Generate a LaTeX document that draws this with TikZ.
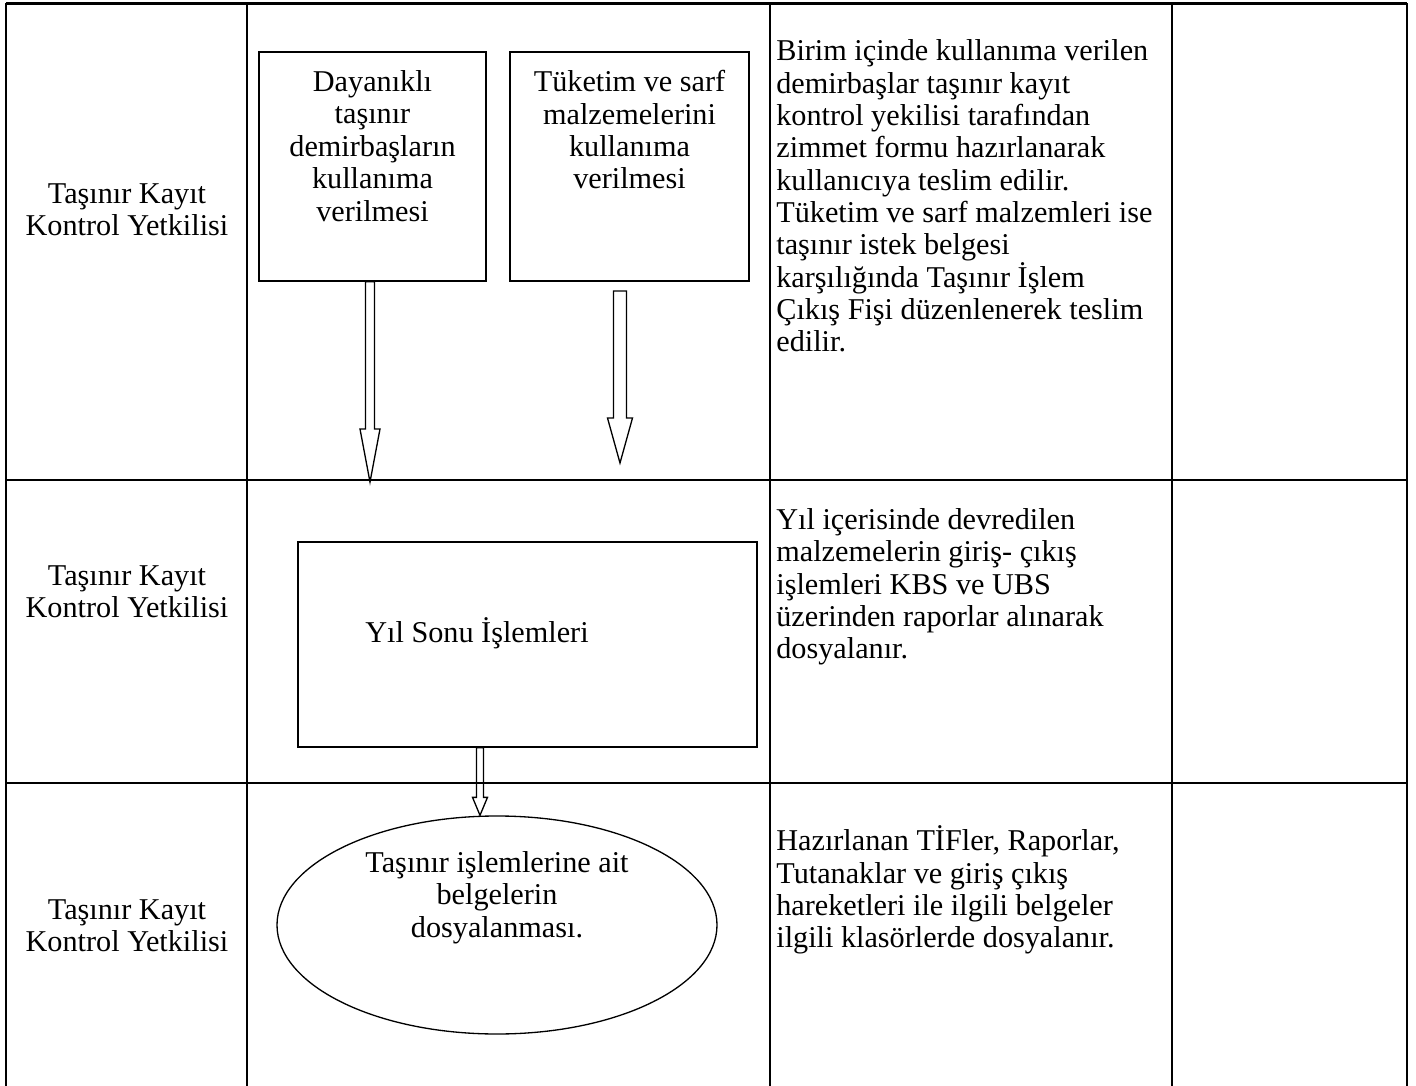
\documentclass[tikz,border=0pt]{standalone}
\usepackage{fontspec}
\setmainfont{Liberation Serif}
\usetikzlibrary{shapes.geometric, calc, positioning}

\tikzset{
  tableline/.style={line width=1.5pt},
  flowbox/.style={draw, line width=0.75pt, inner sep=0pt},
  flowtext/.style={align=center, inner sep=0pt},
  notetext/.style={anchor=west, align=left, inner sep=0pt},
  arrowline/.style={line width=0.75pt, line join=miter}
}

% hollow block arrow: from, to, shaft half width, head half width, head length
\newcommand{\hollowarrow}[5]{%
  \draw[arrowline] let \p1=(#1), \p2=(#2) in
    (\x1-#3,\y1) -- (\x1-#3,\y2+#5) -- (\x1-#4,\y2+#5) -- (\x1,\y2)
    -- (\x1+#4,\y2+#5) -- (\x1+#3,\y2+#5) -- (\x1+#3,\y1) -- cycle;}

\begin{document}
\begin{tikzpicture}[every node/.style={font=\fontsize{17.2}{18.4}\selectfont}]
  \useasboundingbox (0,0) rectangle (28.32,-21.72);

  % table
  \foreach \x in {0.12,4.94,15.4,23.44,28.14}
    \draw[tableline] (\x,-0.07) -- (\x,-21.72);
  \foreach \y in {-0.07,-9.6,-15.66}
    \draw[tableline] (0.12,\y) -- (28.14,\y);

  % who does it
  \foreach \y/\n in {-4.19/1, -11.84/2, -18.52/3}
    \node[flowtext] (role\n) at (2.54,\y) {Taşınır Kayıt\\Kontrol Yetkilisi};

  % flow
  \node[flowbox, minimum width=4.54cm, minimum height=4.58cm] (dayanikli) at (7.45,-3.33) {};
  \node[flowtext] (dayanikli-txt) at (7.45,-2.92)
    {Dayanıklı\\taşınır\\demirbaşların\\kullanıma\\verilmesi};
  \node[flowbox, minimum width=4.78cm, minimum height=4.58cm] (tuketim) at (12.59,-3.33) {};
  \node[flowtext] (tuketim-txt) at (12.59,-2.6)
    {Tüketim ve sarf\\malzemelerini\\kullanıma\\verilmesi};
  \node[flowbox, minimum width=9.18cm, minimum height=4.1cm] (yilsonu) at (10.55,-12.89) {};
  \node[flowtext] (yilsonu-txt) at (9.54,-12.66) {Yıl Sonu İşlemleri};
  \node[flowbox, ellipse, minimum width=8.8cm, minimum height=4.36cm] (dosyalama) at (9.94,-18.5) {};
  \node[flowtext] (dosyalama-txt) at (9.94,-17.95)
    {Taşınır işlemlerine ait\\belgelerin\\dosyalanması.};

  \coordinate (from1) at ([xshift=-0.05cm]dayanikli.south);
  \coordinate (tip1) at (7.4,-9.64);
  \coordinate (from2) at (12.4,-5.82);
  \coordinate (tip2) at (12.4,-9.26);
  \coordinate (from3) at ([xshift=-0.95cm]yilsonu.south);
  \coordinate (tip3) at (from3 |- dosyalama.north);
  \hollowarrow{from1}{tip1}{0.09cm}{0.2cm}{1.06cm}
  \hollowarrow{from2}{tip2}{0.13cm}{0.25cm}{0.9cm}
  \hollowarrow{from3}{tip3}{0.07cm}{0.15cm}{0.36cm}

  % notes
  \node[notetext] (note1) at (15.52,-3.92)
    {Birim içinde kullanıma verilen\\demirbaşlar taşınır kayıt\\kontrol yekilisi tarafından\\zimmet formu hazırlanarak\\kullanıcıya teslim edilir.\\Tüketim ve sarf malzemleri ise\\taşınır istek belgesi\\karşılığında Taşınır İşlem\\Çıkış Fişi düzenlenerek teslim\\edilir.};
  \node[notetext] (note2) at (15.52,-11.74)
    {Yıl içerisinde devredilen\\malzemelerin giriş- çıkış\\işlemleri KBS ve UBS\\üzerinden raporlar alınarak\\dosyalanır.};
  \node[notetext] (note3) at (15.52,-17.8)
    {Hazırlanan TİFler, Raporlar,\\Tutanaklar ve giriş çıkış\\hareketleri ile ilgili belgeler\\ilgili klasörlerde dosyalanır.};
\end{tikzpicture}
\end{document}
